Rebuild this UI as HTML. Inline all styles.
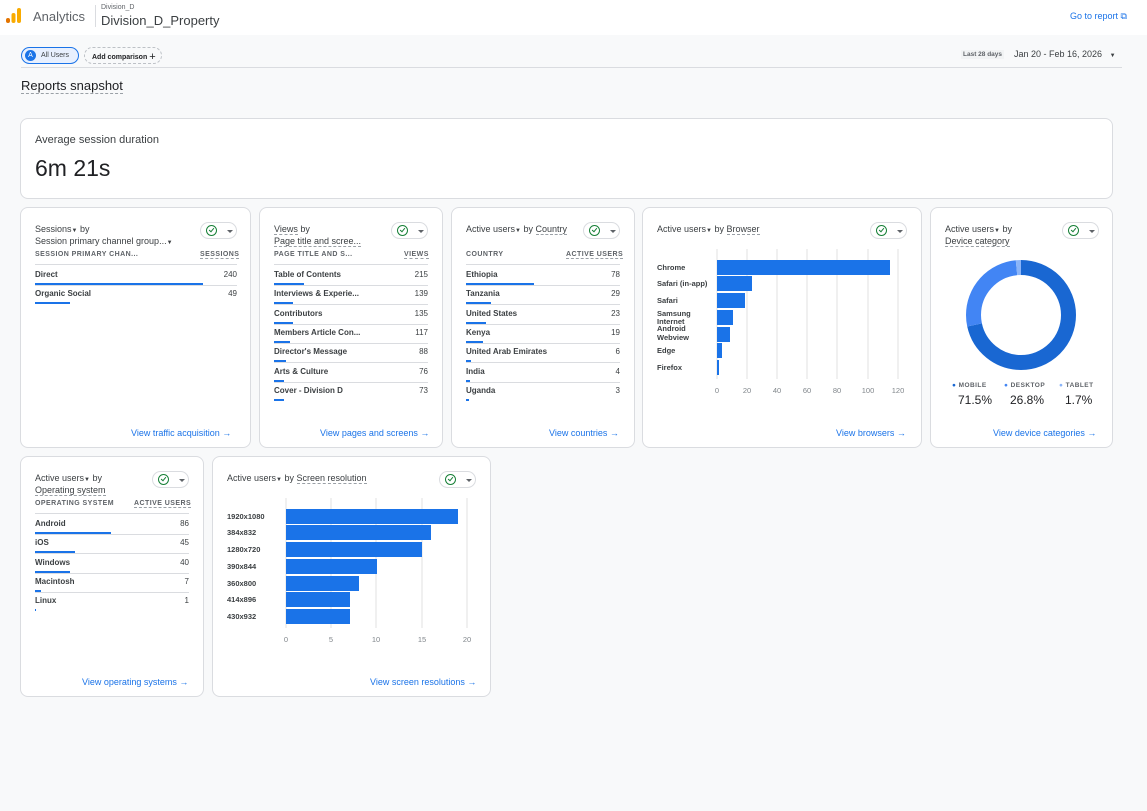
<!DOCTYPE html>
<html><head><meta charset="utf-8"><style>
*{box-sizing:border-box;margin:0;padding:0}
body{width:1147px;height:811px;background:#f8f9fa;font-family:"Liberation Sans",Arial,sans-serif;position:relative;overflow:hidden;color:#202124}
.a{position:absolute;white-space:nowrap}
.top{position:absolute;left:0;top:0;width:1147px;height:35px;background:#fff}
.card{position:absolute;background:#fff;border:1px solid #dadce0;border-radius:8px}
.t{font-size:9px;color:#3c4043}
.u{border-bottom:1px dashed #9aa0a6}
.hd{font-size:7px;letter-spacing:.45px;color:#5f6368;font-weight:bold}
.rl{font-size:8px;color:#3c4043;font-weight:bold}
.rv{font-size:8px;color:#3c4043;text-align:right}
.ln{position:absolute;height:1px;background:#dadce0}
.bar{position:absolute;height:2px;background:#1a73e8}
.lnk{font-size:9px;color:#1a73e8}
.chk{position:absolute;width:37px;height:17px;border:1px solid #dadce0;border-radius:9px;background:#fff}
.chk:before{content:"";position:absolute;left:5px;top:2px;width:9px;height:9px;border:1.3px solid #188038;border-radius:50%}
.chk:after{content:"";position:absolute;left:26px;top:7px;border:3px solid transparent;border-top:3px solid #5f6368}
.chk i{position:absolute;left:9px;top:4px;width:3px;height:5px;border-right:1.3px solid #188038;border-bottom:1.3px solid #188038;transform:rotate(40deg)}
</style></head><body>
<div class="top"></div>
<svg class="a" style="left:6px;top:8px" width="16" height="17"><rect x="0" y="10" width="4" height="5" rx="2" fill="#e37400"/><rect x="5.5" y="5" width="4" height="10" rx="2" fill="#f9ab00"/><rect x="11" y="0" width="4" height="15" rx="2" fill="#f9ab00"/></svg>
<div class="a" style="left:33px;top:9px;font-size:13px;color:#5f6368">Analytics</div>
<div class="a" style="left:95px;top:5px;width:1px;height:22px;background:#dadce0"></div>
<div class="a" style="left:101px;top:4px;font-size:7px;color:#5f6368">Division_D</div>
<div class="a" style="left:101px;top:13px;font-size:13px;color:#3c4043">Division_D_Property</div>
<div class="a lnk" style="left:1070px;top:11px;font-size:9px">Go to report ⧉</div>
<div class="a" style="left:21px;top:47px;width:58px;height:17px;border:1.5px solid #1a73e8;border-radius:9px;background:#e8f0fe"></div>
<div class="a" style="left:25px;top:50px;width:11px;height:11px;border-radius:50%;background:#1a73e8;color:#fff;font-size:7px;text-align:center;line-height:11px">A</div>
<div class="a" style="left:41px;top:52px;font-size:7px;color:#3c4043">All Users</div>
<div class="a" style="left:84px;top:47px;width:78px;height:17px;border:1px dashed #bdc1c6;border-radius:9px"></div>
<div class="a" style="left:92px;top:50px;font-size:7px;font-weight:bold;color:#202124">Add comparison <span style="font-size:11px;font-weight:normal;position:relative;top:1px">+</span></div>
<div class="a" style="left:961px;top:50px;font-size:6.5px;font-weight:bold;background:#f1f3f4;color:#5f6368;padding:1px 2px">Last 28 days</div>
<div class="a" style="left:1014px;top:49px;font-size:9px;color:#3c4043">Jan 20 - Feb 16, 2026 &nbsp;&nbsp;<span style="font-size:6px">▼</span></div>
<div class="a" style="left:21px;top:67px;width:1101px;height:1px;background:#dadce0"></div>
<div class="a" style="left:21px;top:78px;font-size:13px;color:#202124;border-bottom:1px dashed #9aa0a6;line-height:15px">Reports snapshot</div>

<div class="card" style="left:20px;top:118px;width:1093px;height:81px"></div>
<div class="a" style="left:35px;top:134px;font-size:11px;color:#3c4043">Average session duration</div>
<div class="a" style="left:35px;top:155px;font-size:23px;color:#202124">6m 21s</div>

<div class="card" style="left:20px;top:207px;width:231px;height:241px"></div>
<div class="a t" style="left:35px;top:224px">Sessions<span style="font-size:6px">▼</span> by</div>
<div class="a t" style="left:35px;top:236px">Session primary channel group...<span style="font-size:6px">▼</span></div>
<div class="chk" style="left:200px;top:222px"><i></i></div>
<div class="a hd" style="left:35px;top:251px">SESSION PRIMARY CHAN...</div>
<div class="a hd u" style="left:200px;top:251px">SESSIONS</div>
<div class="ln" style="left:35px;top:264px;width:202px"></div>
<div class="a rl" style="left:35px;top:270px">Direct</div><div class="a rv" style="left:200px;top:270px;width:37px">240</div>
<div class="bar" style="left:35px;top:283px;width:168px"></div><div class="ln" style="left:35px;top:285px;width:202px"></div>
<div class="a rl" style="left:35px;top:289px">Organic Social</div><div class="a rv" style="left:200px;top:289px;width:37px">49</div>
<div class="bar" style="left:35px;top:302px;width:35px"></div>
<div class="a lnk" style="left:131px;top:428px">View traffic acquisition →</div>

<div class="card" style="left:259px;top:207px;width:184px;height:241px"></div>
<div class="a t" style="left:274px;top:224px"><span class="u">Views</span> by</div>
<div class="a t u" style="left:274px;top:236px">Page title and scree...</div>
<div class="chk" style="left:391px;top:222px"><i></i></div>
<div class="a hd" style="left:274px;top:251px">PAGE TITLE AND S...</div>
<div class="a hd u" style="left:404px;top:251px">VIEWS</div>
<div class="ln" style="left:274px;top:264px;width:154px"></div>
<div id="c2"></div>
<div class="a lnk" style="left:320px;top:428px">View pages and screens →</div>

<div class="card" style="left:451px;top:207px;width:184px;height:241px"></div>
<div class="a t" style="left:466px;top:224px">Active users<span style="font-size:6px">▼</span> by <span class="u">Country</span></div>
<div class="chk" style="left:583px;top:222px"><i></i></div>
<div class="a hd" style="left:466px;top:251px">COUNTRY</div>
<div class="a hd u" style="left:566px;top:251px">ACTIVE USERS</div>
<div class="ln" style="left:466px;top:264px;width:154px"></div>
<div id="c3"></div>
<div class="a lnk" style="left:549px;top:428px">View countries →</div>

<div class="card" style="left:642px;top:207px;width:280px;height:241px"></div>
<div class="a t" style="left:657px;top:224px">Active users<span style="font-size:6px">▼</span> by <span class="u">Browser</span></div>
<div class="chk" style="left:870px;top:222px"><i></i></div>
<svg class="a" style="left:642px;top:207px" width="280" height="200">
<g stroke="#e0e0e0" stroke-width="1"><line x1="75" y1="42" x2="75" y2="172"/><line x1="105" y1="42" x2="105" y2="172"/><line x1="135" y1="42" x2="135" y2="172"/><line x1="165" y1="42" x2="165" y2="172"/><line x1="195" y1="42" x2="195" y2="172"/><line x1="226" y1="42" x2="226" y2="172"/><line x1="256" y1="42" x2="256" y2="172"/></g>
<g fill="#1a73e8"><rect x="75" y="53" width="173" height="15"/><rect x="75" y="69" width="35" height="15"/><rect x="75" y="86" width="28" height="15"/><rect x="75" y="103" width="16" height="15"/><rect x="75" y="120" width="13" height="15"/><rect x="75" y="136" width="5" height="15"/><rect x="75" y="153" width="2" height="15"/></g>
<g font-size="7.5" fill="#3c4043" font-weight="bold"><text x="15" y="63">Chrome</text><text x="15" y="79">Safari (in-app)</text><text x="15" y="96">Safari</text><text x="15" y="109">Samsung</text><text x="15" y="117">Internet</text><text x="15" y="124">Android</text><text x="15" y="133">Webview</text><text x="15" y="146">Edge</text><text x="15" y="163">Firefox</text></g>
<g font-size="7.5" fill="#80868b" text-anchor="middle"><text x="75" y="186">0</text><text x="105" y="186">20</text><text x="135" y="186">40</text><text x="165" y="186">60</text><text x="195" y="186">80</text><text x="226" y="186">100</text><text x="256" y="186">120</text></g>
</svg>
<div class="a lnk" style="left:836px;top:428px">View browsers →</div>

<div class="card" style="left:930px;top:207px;width:183px;height:241px"></div>
<div class="a t" style="left:945px;top:224px">Active users<span style="font-size:6px">▼</span> by</div>
<div class="a t u" style="left:945px;top:236px">Device category</div>
<div class="chk" style="left:1062px;top:222px"><i></i></div>
<svg class="a" style="left:960px;top:254px" width="122" height="122">
<g transform="translate(61,61) rotate(-90)" fill="none" stroke-width="15">
<circle r="47.5" stroke="#1967d2" stroke-dasharray="213.4 298.5"/>
<circle r="47.5" stroke="#4285f4" stroke-dasharray="80 298.5" stroke-dashoffset="-213.4"/>
<circle r="47.5" stroke="#8ab4f8" stroke-dasharray="5.1 298.5" stroke-dashoffset="-293.4"/>
</g></svg>
<div class="a hd" style="left:952px;top:382px;font-size:6.5px"><span style="color:#1967d2">●</span> MOBILE</div>
<div class="a hd" style="left:1004px;top:382px;font-size:6.5px"><span style="color:#4285f4">●</span> DESKTOP</div>
<div class="a hd" style="left:1059px;top:382px;font-size:6.5px"><span style="color:#8ab4f8">●</span> TABLET</div>
<div class="a" style="left:958px;top:393px;font-size:12px">71.5%</div>
<div class="a" style="left:1010px;top:393px;font-size:12px">26.8%</div>
<div class="a" style="left:1065px;top:393px;font-size:12px">1.7%</div>
<div class="a lnk" style="left:993px;top:428px">View device categories →</div>

<div class="card" style="left:20px;top:456px;width:184px;height:241px"></div>
<div class="a t" style="left:35px;top:473px">Active users<span style="font-size:6px">▼</span> by</div>
<div class="a t u" style="left:35px;top:485px">Operating system</div>
<div class="chk" style="left:152px;top:471px"><i></i></div>
<div class="a hd" style="left:35px;top:500px">OPERATING SYSTEM</div>
<div class="a hd u" style="left:134px;top:500px">ACTIVE USERS</div>
<div class="ln" style="left:35px;top:513px;width:154px"></div>
<div id="c6"></div>
<div class="a lnk" style="left:82px;top:677px">View operating systems →</div>

<div class="card" style="left:212px;top:456px;width:279px;height:241px"></div>
<div class="a t" style="left:227px;top:473px">Active users<span style="font-size:6px">▼</span> by <span class="u">Screen resolution</span></div>
<div class="chk" style="left:439px;top:471px"><i></i></div>
<svg class="a" style="left:212px;top:456px" width="279" height="200">
<g stroke="#e0e0e0"><line x1="74" y1="42" x2="74" y2="172"/><line x1="119" y1="42" x2="119" y2="172"/><line x1="164" y1="42" x2="164" y2="172"/><line x1="210" y1="42" x2="210" y2="172"/><line x1="255" y1="42" x2="255" y2="172"/></g>
<g fill="#1a73e8"><rect x="74" y="53" width="172" height="15"/><rect x="74" y="69" width="145" height="15"/><rect x="74" y="86" width="136" height="15"/><rect x="74" y="103" width="91" height="15"/><rect x="74" y="120" width="73" height="15"/><rect x="74" y="136" width="64" height="15"/><rect x="74" y="153" width="64" height="15"/></g>
<g font-size="7.5" fill="#3c4043" font-weight="bold"><text x="15" y="63">1920x1080</text><text x="15" y="79">384x832</text><text x="15" y="96">1280x720</text><text x="15" y="113">390x844</text><text x="15" y="130">360x800</text><text x="15" y="146">414x896</text><text x="15" y="163">430x932</text></g>
<g font-size="7.5" fill="#80868b" text-anchor="middle"><text x="74" y="186">0</text><text x="119" y="186">5</text><text x="164" y="186">10</text><text x="210" y="186">15</text><text x="255" y="186">20</text></g>
</svg>
<div class="a lnk" style="left:370px;top:677px">View screen resolutions →</div>

<script>
function tbl(id,x,y0,w,rows){var h='';rows.forEach(function(r,i){var y=y0+i*19.3;
h+='<div class="a rl" style="left:'+x+'px;top:'+(y+6)+'px">'+r[0]+'</div><div class="a rv" style="left:'+(x+w-40)+'px;top:'+(y+6)+'px;width:40px">'+r[1]+'</div><div class="bar" style="left:'+x+'px;top:'+(y+19)+'px;width:'+r[2]+'px"></div>';
if(i<rows.length-1)h+='<div class="ln" style="left:'+x+'px;top:'+(y+21)+'px;width:'+w+'px"></div>';});
document.getElementById(id).outerHTML=h;}
tbl('c2',274,264,154,[['Table of Contents',215,30],['Interviews &amp; Experie...',139,19],['Contributors',135,19],['Members Article Con...',117,16],["Director's Message",88,12],['Arts &amp; Culture',76,10],['Cover - Division D',73,10]]);
tbl('c3',466,264,154,[['Ethiopia',78,68],['Tanzania',29,25],['United States',23,20],['Kenya',19,17],['United Arab Emirates',6,5],['India',4,4],['Uganda',3,3]]);
tbl('c6',35,513,154,[['Android',86,76],['iOS',45,40],['Windows',40,35],['Macintosh',7,6],['Linux',1,1]]);
</script>
</body></html>
